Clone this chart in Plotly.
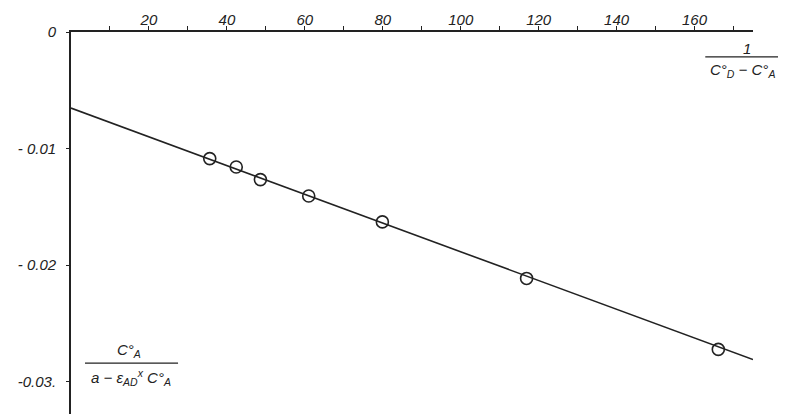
import plotly.graph_objects as go

# Data
x_points = [35.6, 42.4, 48.6, 61.0, 79.9, 116.9, 166.1]
y_points = [-0.01086, -0.01158, -0.01266, -0.01407, -0.01629, -0.02114, -0.02723]

# Fitted straight line (end points as drawn)
line_x = [0, 175]
line_y = [-0.00653, -0.0281]

x_tickvals = [10, 20, 30, 40, 50, 60, 70, 80, 90, 100, 110, 120, 130, 140, 150, 160, 170]
x_ticktext = ["", "20", "", "40", "", "60", "", "80", "", "100", "", "120", "", "140", "", "160", ""]

y_tickvals = [0, -0.01, -0.02, -0.03]
y_ticktext = ["0", "- 0.01", "- 0.02", "-0.03."]

INK = "#222222"
FONT = "Liberation Sans"

# The page body has an 8px margin; size the figure so it fills the window exactly.
W, H = 778, 406
PX0, PX1 = 71, 752.7     # plot area left/right in window pixels
PY0, PY1 = 31.5, 414     # plot area top/bottom in window pixels


def px(xw):
    return (xw - PX0) / (PX1 - PX0)


def py(yw):
    return 1 - (yw - PY0) / (PY1 - PY0)


fig = go.Figure()
fig.add_trace(go.Scatter(x=line_x, y=line_y, mode="lines",
                         line=dict(color=INK, width=1.6), hoverinfo="skip",
                         showlegend=False))
fig.add_trace(go.Scatter(x=x_points, y=y_points, mode="markers",
                         marker=dict(symbol="circle-open", size=12, color=INK,
                                     line=dict(color=INK, width=1.6)),
                         showlegend=False, cliponaxis=False))

fig.update_layout(
    width=W, height=H,
    margin=dict(l=PX0 - 8, r=W - (PX1 - 8), t=PY0 - 8, b=0, autoexpand=False),
    paper_bgcolor="white", plot_bgcolor="white",
    font=dict(family=FONT, color=INK),
    xaxis=dict(range=[0, 175], side="top", showgrid=False, zeroline=False,
               automargin=False,
               showline=True, linecolor=INK, linewidth=1.8,
               ticks="outside", ticklen=4, tickwidth=1.2, tickcolor=INK,
               tickmode="array", tickvals=x_tickvals, ticktext=x_ticktext,
               ticklabelstandoff=-5,
               tickfont=dict(family=FONT, size=15, color=INK, style="italic")),
    yaxis=dict(range=[-0.03277, 0], showgrid=False, zeroline=False,
               automargin=False,
               showline=True, linecolor=INK, linewidth=1.8,
               ticks="outside", ticklen=3, tickwidth=1.2, tickcolor=INK,
               tickmode="array", tickvals=y_tickvals, ticktext=y_ticktext,
               ticklabelstandoff=7,
               tickfont=dict(family=FONT, size=15, color=INK, style="italic")),
)

ann_font = dict(family=FONT, size=15, color=INK, style="italic")

# x-axis title: 1 / (C_D° - C_A°)
fig.add_annotation(xref="paper", yref="paper", x=px(746.7), y=py(48),
                   text="1", showarrow=False, font=ann_font, xanchor="center", yanchor="middle")
fig.add_shape(type="line", xref="paper", yref="paper",
              x0=px(705), x1=px(785), y0=py(56.5), y1=py(56.5),
              line=dict(color=INK, width=1.3))
fig.add_annotation(xref="paper", yref="paper", x=px(742), y=py(70),
                   text="C°<sub>D</sub> − C°<sub>A</sub>", showarrow=False, font=ann_font,
                   xanchor="center", yanchor="middle")

# y-axis title: C_A° / (a - ε_AD × C_A°)
fig.add_annotation(xref="paper", yref="paper", x=px(129), y=py(350),
                   text="C°<sub>A</sub>", showarrow=False, font=ann_font,
                   xanchor="center", yanchor="middle")
fig.add_shape(type="line", xref="paper", yref="paper",
              x0=px(85), x1=px(178), y0=py(363), y1=py(363),
              line=dict(color=INK, width=1.3))
fig.add_annotation(xref="paper", yref="paper", x=px(131), y=py(377),
                   text="a − ε<sub>AD</sub><sup>x</sup> C°<sub>A</sub>", showarrow=False,
                   font=ann_font, xanchor="center", yanchor="middle")

fig.write_html("out.html")
